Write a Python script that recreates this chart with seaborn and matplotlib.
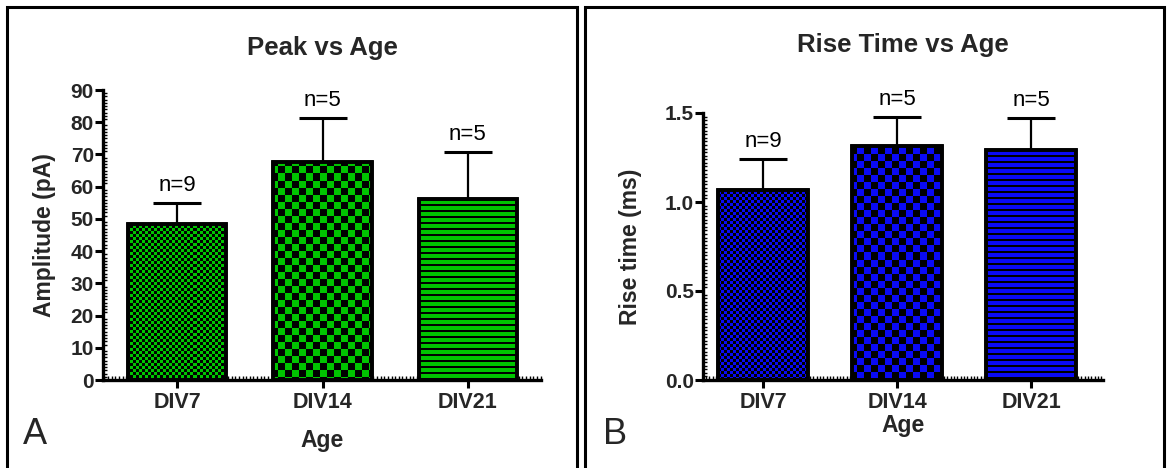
import numpy as np
import pandas as pd
import matplotlib
matplotlib.use("Agg")
import matplotlib.pyplot as plt
from matplotlib.patches import Rectangle
from matplotlib.ticker import MultipleLocator
import seaborn as sns

# ---------------- data ----------------
ages = ["DIV7", "DIV14", "DIV21"]
peak_mean = [48.4, 67.8, 56.1]
peak_sem = [6.6, 13.4, 14.8]
rise_mean = [1.067, 1.315, 1.292]
rise_sem = [0.173, 0.161, 0.178]
n_labels = ["n=9", "n=5", "n=5"]
patterns = ["fine", "coarse", "lines"]

sns.set_theme(style="white")
plt.rcParams["font.family"] = ["Liberation Sans", "DejaVu Sans"]

W, H = 1170, 468
fig = plt.figure(figsize=(W / 100, H / 100), dpi=100)
fig.patch.set_facecolor("white")


def px_axes(x0, x1, ytop, ybot):
    return fig.add_axes([x0 / W, 1 - ybot / H, (x1 - x0) / W, (ybot - ytop) / H])


def texture(kind, hpx, wpx):
    yy, xx = np.mgrid[0:hpx, 0:wpx]
    if kind == "fine":
        s = 3
        on = ((xx // s + yy // s) % 2) == 0
    elif kind == "coarse":
        s = 7
        on = ((xx // s + yy // s) % 2) == 0
    else:
        on = (yy % 6) < 2
    rgba = np.zeros((hpx, wpx, 4))
    rgba[..., 3] = on.astype(float)
    return rgba


def panel(ax, means, sems, color, ylim, yticks, yfmt, yminor, xlim, width,
          ylabel, title, title_y, ylab_px):
    df = pd.DataFrame({"age": ages, "val": means})
    sns.barplot(data=df, x="age", y="val", ax=ax, color=color, width=width,
                edgecolor="black", linewidth=2.6, saturation=1, errorbar=None,
                zorder=2)
    ax.set_xlim(*xlim)
    ax.set_ylim(*ylim)
    fig.canvas.draw()
    bb = ax.get_window_extent()
    wpx, hpx = int(round(bb.width)), int(round(bb.height))
    for bar, kind in zip(ax.patches, patterns):
        im = ax.imshow(texture(kind, hpx, wpx), extent=(xlim[0], xlim[1], ylim[0], ylim[1]),
                       aspect="auto", interpolation="nearest", zorder=2.5, origin="upper")
        im.set_clip_path(bar)
        r = Rectangle(bar.get_xy(), bar.get_width(), bar.get_height(), fill=False,
                      edgecolor="black", linewidth=2.6, zorder=3)
        ax.add_patch(r)
    x = np.arange(len(ages))
    ax.errorbar(x, means, yerr=[np.zeros(len(sems)), sems], fmt="none",
                ecolor="black", elinewidth=1.6, capsize=17, capthick=2.2, zorder=1)
    for xi, m, s, lab in zip(x, means, sems, n_labels):
        ax.annotate(lab, (xi, m + s), xytext=(0, 5), textcoords="offset points",
                    ha="center", va="bottom", fontsize=16, color="black")
    ax.set_yticks(yticks)
    ax.set_yticklabels([yfmt.format(v) for v in yticks], fontweight="bold", fontsize=15)
    ax.set_xticks(x)
    ax.set_xticklabels(ages, fontweight="bold", fontsize=15.5)
    ax.yaxis.set_minor_locator(MultipleLocator(yminor))
    ax.xaxis.set_minor_locator(MultipleLocator(0.025))
    for s in ["top", "right"]:
        ax.spines[s].set_visible(False)
    for s in ["left", "bottom"]:
        ax.spines[s].set_linewidth(2.4)
        ax.spines[s].set_color("black")
    ax.tick_params(which="major", direction="out", length=6, width=2.2, color="black",
                   pad=0.5, left=True, bottom=True)
    ax.tick_params(which="minor", direction="in", length=3, width=1, color="black",
                   left=True, bottom=True)
    ax.tick_params(axis="x", which="major", pad=3)
    ax.set_xlabel("Age", fontweight="bold", fontsize=16.5)
    ax.set_ylabel(ylabel, fontweight="bold", fontsize=16.5)
    ax.yaxis.set_label_coords(-ylab_px / bb.width, 0.5)
    ax.set_title(title, fontweight="bold", fontsize=18.5, pad=0, y=title_y)
    ax.set_facecolor("white")


# left panel
axA = px_axes(103, 541, 90, 380)
panel(axA, peak_mean, peak_sem, "#00C400", (0, 90), list(range(0, 91, 10)), "{:d}", 1,
      (-0.51, 2.503), 0.676, "Amplitude (pA)", "Peak vs Age", 1.0 + 35 / 290, 47)
axA.xaxis.set_label_coords(0.5, -49 / 290)

# right panel
axB = px_axes(703, 1103, 113, 380)
panel(axB, rise_mean, rise_sem, "#0A0AF5", (0, 1.5), [0.0, 0.5, 1.0, 1.5], "{:.1f}", 0.02,
      (-0.448, 2.537), 0.67, "Rise time (ms)", "Rise Time vs Age", 1.0 + 61 / 267, 61)
axB.xaxis.set_label_coords(0.5, -34 / 267)

# panel letters
fig.text(23 / W, 1 - 444 / H, "A", fontsize=26, ha="left", va="baseline")
fig.text(603 / W, 1 - 444 / H, "B", fontsize=26, ha="left", va="baseline")

# panel frames
for x0, x1 in [(7, 577), (585, 1164)]:
    fig.add_artist(Rectangle((x0 / W, -0.1), (x1 - x0) / W, (1 - 7 / H) + 0.1,
                             transform=fig.transFigure, fill=False, edgecolor="black",
                             linewidth=2.2))

fig.savefig("out.png", dpi=100, facecolor="white")
